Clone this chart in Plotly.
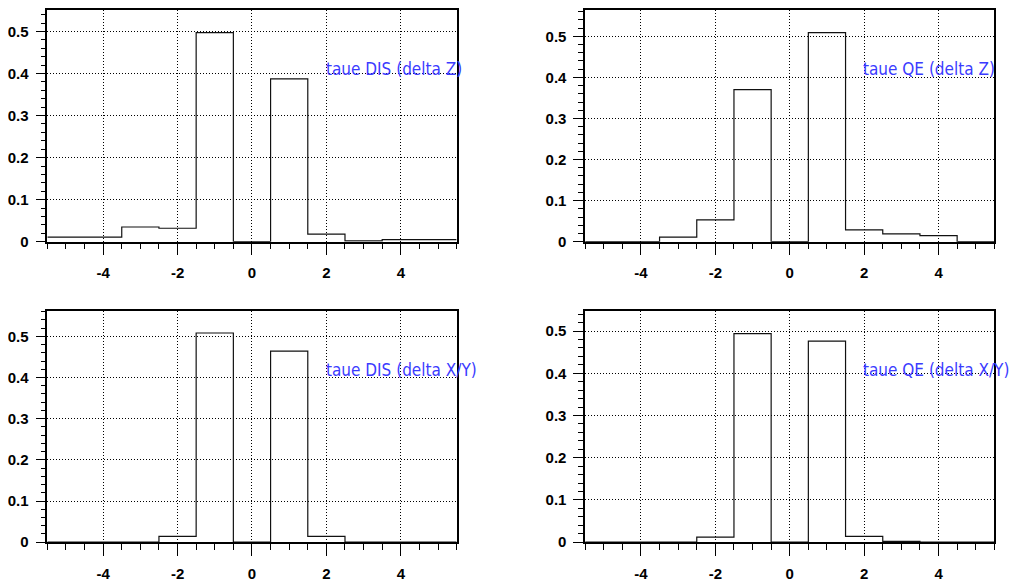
import plotly.graph_objects as go

# bin centres (bin width 1)
bin_centers = [-5, -4, -3, -2, -1, 0, 1, 2, 3, 4, 5]
bin_width = 1.0

dis_dz = [0.011, 0.011, 0.035, 0.032, 0.497, 0.0, 0.387, 0.018, 0.002, 0.005, 0.005]
qe_dz = [0.0, 0.0, 0.011, 0.053, 0.370, 0.0, 0.509, 0.029, 0.019, 0.015, 0.0]
dis_dxy = [0.0, 0.0, 0.0, 0.014, 0.508, 0.0, 0.464, 0.014, 0.0, 0.0, 0.0]
qe_dxy = [0.0, 0.0, 0.0, 0.012, 0.494, 0.0, 0.476, 0.014, 0.002, 0.0, 0.0]

titles = ["taue DIS (delta Z)", "taue QE (delta Z)", "taue DIS (delta X/Y)", "taue QE (delta X/Y)"]
series = [dis_dz, qe_dz, dis_dxy, qe_dxy]
y_max = [0.551, 0.564, 0.562, 0.548]

x_ticks = [-4, -2, 0, 2, 4]
y_ticks = [0, 0.1, 0.2, 0.3, 0.4, 0.5]

PAGE_W, PAGE_H = 1019, 587
OFF = 8  # default body margin of the html page
W, H = PAGE_W - OFF, PAGE_H - OFF
# page-pixel boxes of the four frames (left, right, top, bottom)
boxes = [(45.4, 455.5, 10, 245), (584.3, 994.3, 10, 245),
         (45.4, 455.5, 315, 549.7), (584.3, 994.3, 315, 549.7)]

tick_font_x = dict(family="Liberation Sans Narrow, Liberation Sans", size=15, color="#000", weight="bold")
tick_font_y = dict(family="Liberation Sans Narrow, Liberation Sans", size=15, color="#000", weight="bold")

fig = go.Figure()
for i, (vals, title, ymx, box) in enumerate(zip(series, titles, y_max, boxes)):
    n = "" if i == 0 else str(i + 1)
    xs = [c - bin_width / 2 for c in bin_centers] + [bin_centers[-1] + bin_width / 2]
    ys = list(vals) + [vals[-1]]
    fig.add_trace(go.Scatter(x=xs, y=ys, mode="lines", line=dict(shape="hv", color="#111", width=1.2),
                             xaxis="x" + n, yaxis="y" + n, showlegend=False, hoverinfo="skip"))
    l, r, t, b = [v - OFF for v in box]
    fig.layout["xaxis" + n] = dict(
        domain=[l / W, r / W], anchor="y" + n, range=[-5.5, 5.5],
        tickmode="array", tickvals=x_ticks, ticktext=[str(v) for v in x_ticks],
        ticks="outside", ticklen=12, tickcolor="#000", tickwidth=1,
        minor=dict(dtick=0.5, tick0=0, ticks="outside", ticklen=6, tickcolor="#000", showgrid=False),
        showline=True, mirror=True, linecolor="#000", linewidth=1.5,
        showgrid=True, gridcolor="#000", griddash="1px,2px", gridwidth=1, zeroline=False,
        tickfont=tick_font_x, ticklabelstandoff=5,
    )
    fig.layout["yaxis" + n] = dict(
        domain=[1 - b / H, 1 - t / H], anchor="x" + n, range=[0, ymx],
        tickmode="array", tickvals=y_ticks, ticktext=["0", "0.1", "0.2", "0.3", "0.4", "0.5"],
        ticks="outside", ticklen=10, tickcolor="#000", tickwidth=1,
        minor=dict(dtick=0.02, tick0=0, ticks="outside", ticklen=5, tickcolor="#000", showgrid=False),
        showline=True, mirror=True, linecolor="#000", linewidth=1.5,
        showgrid=True, gridcolor="#000", griddash="1px,2px", gridwidth=1, zeroline=False,
        tickfont=tick_font_y, ticklabelstandoff=4,
    )
    fig.add_annotation(text=title, xref=f"x{n} domain", yref=f"y{n} domain", x=0.675, y=0.745,
                       xanchor="left", yanchor="middle", showarrow=False,
                       font=dict(family="DejaVu Sans Condensed, Liberation Sans", size=17, color="#3b3bff"))

fig.update_layout(width=W, height=H, margin=dict(l=0, r=0, t=0, b=0),
                  paper_bgcolor="white", plot_bgcolor="white")
fig.write_html("out.html", config={"displayModeBar": False})
